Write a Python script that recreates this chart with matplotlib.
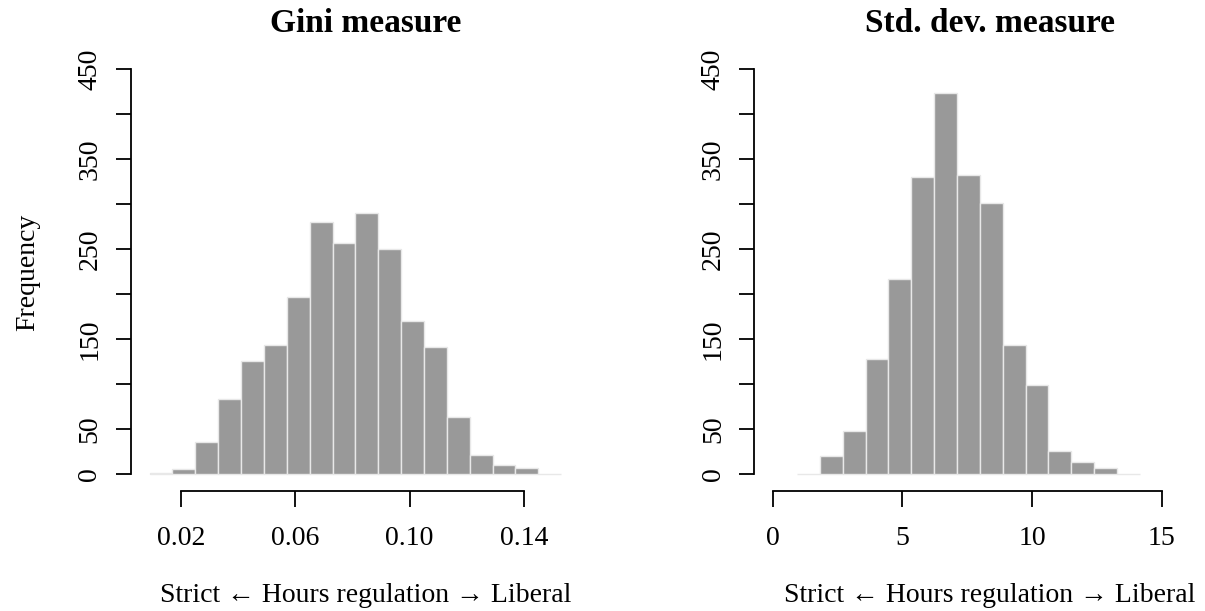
import numpy as np
import matplotlib
matplotlib.use("Agg")
import matplotlib.pyplot as plt

# ---- data
gini_edges = [0.009, 0.017, 0.025, 0.033, 0.041, 0.049, 0.057, 0.065, 0.073, 0.081,
              0.089, 0.097, 0.105, 0.113, 0.121, 0.129, 0.137, 0.145, 0.153]
gini_counts = [2, 6, 36, 84, 126, 144, 197, 280, 257, 291, 251, 171, 142, 64, 22, 10, 7, 1]

sd_edges = [0.93, 1.81, 2.69, 3.58, 4.46, 5.34, 6.22, 7.10, 7.99, 8.87,
            9.75, 10.63, 11.51, 12.40, 13.28, 14.16]
sd_counts = [1, 20, 48, 128, 217, 331, 424, 333, 302, 144, 99, 26, 14, 7, 1]

gini_ticks = [0.02, 0.06, 0.10, 0.14]
gini_ticklabels = ["0.02", "0.06", "0.10", "0.14"]
sd_ticks = [0, 5, 10, 15]
sd_ticklabels = ["0", "5", "10", "15"]
y_ticks = [0, 50, 100, 150, 200, 250, 300, 350, 400, 450]
y_ticklabels = ["0", "50", "", "150", "", "250", "", "350", "", "450"]

xlab = "Strict \u2190 Hours regulation \u2192 Liberal"

plt.rcParams['font.family'] = ['Liberation Serif', 'DejaVu Serif']
plt.rcParams['font.size'] = 20

fig = plt.figure(figsize=(12.05, 6.11), dpi=100)


def panel(pos, edges, counts, xticks, xticklabels, xlim, title, ylabel=None):
    ax = fig.add_axes(pos)
    edges = np.array(edges)
    ax.bar(edges[:-1], counts, width=np.diff(edges), align='edge',
           color='#999999', edgecolor='#e8e8e8', linewidth=1.0)
    ax.set_xlim(xlim)
    ax.set_ylim(-18, 468)
    for s in ['top', 'right']:
        ax.spines[s].set_visible(False)
    ax.spines['left'].set_bounds(0, 450)
    ax.spines['bottom'].set_bounds(xticks[0], xticks[-1])
    ax.spines['left'].set_linewidth(1.3)
    ax.spines['bottom'].set_linewidth(1.3)
    ax.set_xticks(xticks)
    ax.set_xticklabels(xticklabels)
    ax.set_yticks(y_ticks)
    ax.set_yticklabels(y_ticklabels, rotation=90, va='center')
    ax.tick_params(axis='x', length=11.5, width=1.3, pad=14)
    ax.tick_params(axis='y', length=10.5, width=1.3, pad=10)
    ax.set_xlabel(xlab, labelpad=23)
    ax.set_title(title, fontweight='bold', pad=15)
    if ylabel:
        ax.set_ylabel(ylabel, labelpad=27)
    return ax


panel([0.1085, 0.1969, 0.3906, 0.7159], gini_edges, gini_counts,
      gini_ticks, gini_ticklabels, (0.0024, 0.1671), "Gini measure", "Frequency")
panel([0.626, 0.1969, 0.3906, 0.7159], sd_edges, sd_counts,
      sd_ticks, sd_ticklabels, (-0.711, 17.44), "Std. dev. measure")

plt.savefig("out.png", dpi=100)
plt.close()
